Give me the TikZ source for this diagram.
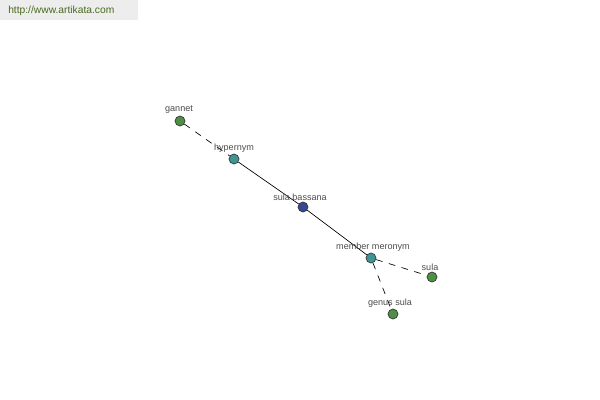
\documentclass[tikz,border=0pt]{standalone}
\usepackage{fontspec}
\setmainfont{Liberation Sans}
\definecolor{urlgreen}{HTML}{4A6B1E}
\definecolor{nodegreen}{HTML}{4E8F46}
\definecolor{nodeteal}{HTML}{3F9494}
\definecolor{nodeblue}{HTML}{3B4692}
\begin{document}
\begin{tikzpicture}[x=0.75pt,y=-0.75pt,
  lbl/.style={font=\fontsize{6.8}{8}\selectfont, text=black!70, inner sep=0pt},
  dot/.style={circle, draw=black!80, line width=0.5pt, minimum size=7.5pt, inner sep=0pt},
  gdot/.style={dot, fill=nodegreen},
  tdot/.style={dot, fill=nodeteal},
  bdot/.style={dot, fill=nodeblue},
  solidedge/.style={draw=black, line width=0.5pt},
  dashedge/.style={draw=black, line width=0.5pt, dash pattern=on 5pt off 5pt}]
\useasboundingbox (0,0) rectangle (600,400);
\fill[black!7] (0,0) rectangle (138,20);
\node[font=\fontsize{7.7}{9}\selectfont, text=urlgreen, anchor=west, inner sep=0pt] (url) at (8,11) {http://www.artikata.com};
\node[gdot] (gannet) at (180,121) {};
\node[tdot] (hyp) at (234,159) {};
\node[bdot] (sb) at (303,207) {};
\node[tdot] (mm) at (371,258) {};
\node[gdot] (sula) at (432,277) {};
\node[gdot] (gs) at (393,314) {};
\draw[dashedge] (gannet) -- (hyp);
\draw[solidedge] (hyp) -- (sb);
\draw[solidedge] (sb) -- (mm);
\draw[dashedge] (mm) -- (sula);
\draw[dashedge] (mm) -- (gs);
\node[lbl] (lg) at (179,110) {gannet};
\node[lbl] (lh) at (234,148.5) {hypernym};
\node[lbl] (ls) at (300,197) {sula bassana};
\node[lbl] (lm) at (373,247) {member meronym};
\node[lbl] (lsu) at (430,267) {sula};
\node[lbl] (lgs) at (390,303) {genus sula};
\end{tikzpicture}
\end{document}
